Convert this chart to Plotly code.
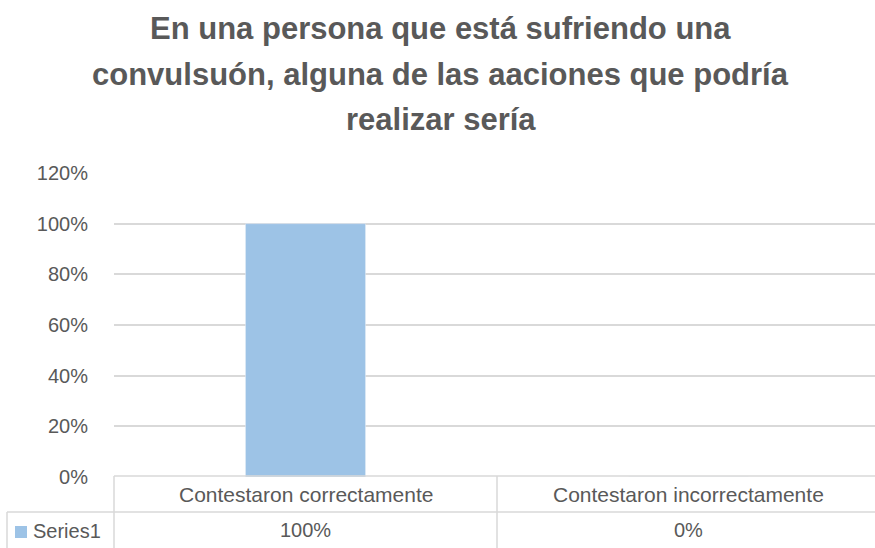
import plotly.graph_objects as go

categories = ["Contestaron correctamente", "Contestaron incorrectamente"]
values = [1.0, 0.0]
value_labels = ["100%", "0%"]
series_name = "Series1"
title_lines = [
    "En una persona que está sufriendo una",
    "convulsuón, alguna de las aaciones que podría",
    "realizar sería",
]
tick_vals = [0, 0.2, 0.4, 0.6, 0.8, 1.0, 1.2]
tick_text = ["0%", "20%", "40%", "60%", "80%", "100%", "120%"]

W, H = 875, 548
L, R, T, B = 114, 0, 173, 71
pw, ph = W - L - R, H - T - B
cat_px = 383.0

TXT = "#595959"
GRID = "#d9d9d9"
BAR = "#9DC3E6"
FONT = "Liberation Sans"

def px(xp):
    return (xp - L) / pw

def py(yp):
    return (H - B - yp) / ph

fig = go.Figure()
fig.add_trace(go.Bar(x=[0, 1], y=values, width=120 / cat_px, marker_color=BAR,
                     name=series_name, showlegend=False, hoverinfo="skip"))

fig.update_layout(
    width=W, height=H, autosize=False,
    margin=dict(l=L, r=R, t=T, b=B, pad=0),
    paper_bgcolor="white", plot_bgcolor="white",
    font=dict(family=FONT, color=TXT),
    xaxis=dict(range=[-0.5, -0.5 + pw / cat_px], showticklabels=False, showgrid=False,
               zeroline=False, showline=False, fixedrange=True),
    yaxis=dict(range=[0, 1.2], tickvals=tick_vals, ticktext=tick_text,
               tickfont=dict(size=20, color=TXT, family=FONT),
               showgrid=True, gridcolor=GRID, gridwidth=1.5, zeroline=False,
               showline=False, ticks="", ticklabelstandoff=25),
)

annotations = []
title_y = [28, 74, 120]
for line, yy in zip(title_lines, title_y):
    annotations.append(dict(text="<b>" + line + "</b>", x=0.5, xref="paper", xanchor="center",
                            y=py(yy), yref="paper", yanchor="middle", showarrow=False,
                            font=dict(family=FONT, size=31, color=TXT),
                            xshift=-L / 2 + 3))
for i, c in enumerate(categories):
    annotations.append(dict(text=c, x=i, xref="x", y=py(494), yref="paper", yanchor="middle",
                            xanchor="center", showarrow=False,
                            font=dict(family=FONT, size=21, color=TXT)))
for i, v in enumerate(value_labels):
    annotations.append(dict(text=v, x=i, xref="x", y=py(530), yref="paper", yanchor="middle",
                            xanchor="center", showarrow=False,
                            font=dict(family=FONT, size=20, color=TXT)))
annotations.append(dict(text=series_name, x=px(31), xref="paper", xanchor="left",
                        y=py(531), yref="paper", yanchor="middle", showarrow=False,
                        font=dict(family=FONT, size=20, color=TXT)))
fig.update_layout(annotations=annotations)

shapes = []
def hline(x0, x1, y):
    shapes.append(dict(type="line", xref="paper", yref="paper", x0=px(x0), x1=px(x1),
                       y0=py(y), y1=py(y), line=dict(color=GRID, width=1.5)))
def vline(x, y0, y1):
    shapes.append(dict(type="line", xref="paper", yref="paper", x0=px(x), x1=px(x),
                       y0=py(y0), y1=py(y1), line=dict(color=GRID, width=1.5)))
hline(114, 900, 476)
hline(7, 900, 512)
vline(114, 476, 560)
vline(497, 476, 560)
vline(7, 512, 560)
shapes.append(dict(type="rect", xref="paper", yref="paper", x0=px(15), x1=px(27),
                   y0=py(538), y1=py(526), fillcolor=BAR, line=dict(width=0)))
fig.update_layout(shapes=shapes)

fig.write_html("out.html", config={"displayModeBar": False},
               post_script="document.body.style.margin='0';document.body.style.overflow='hidden';")
